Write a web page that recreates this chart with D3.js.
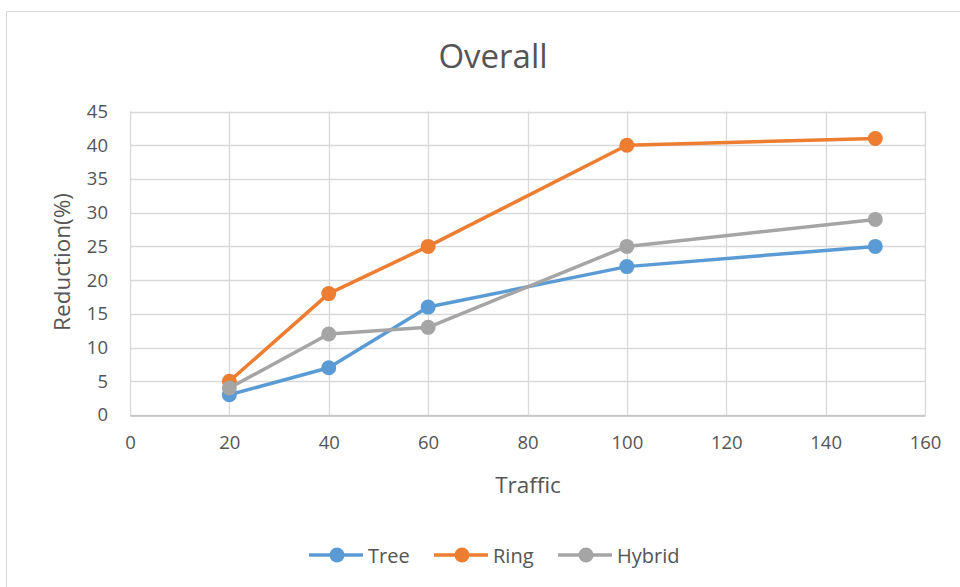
<!DOCTYPE html>
<html>
<head>
<meta charset="utf-8">
<script src="https://cdn.jsdelivr.net/npm/d3@7"></script>
<style>
  html, body { margin: 0; padding: 0; background: #fff; }
  svg { display: block; }
  text { font-family: "Open Sans", Lato, sans-serif; }
</style>
</head>
<body>
<svg id="chart" width="960" height="587"></svg>
<script>
// Traffic levels and reduction (%) per topology
const traffic = [20, 40, 60, 100, 150];
const tree = [3, 7, 16, 22, 25];
const ring = [5, 18, 25, 40, 41];
const hybrid = [4, 12, 13, 25, 29];
const xTicks = [0, 20, 40, 60, 80, 100, 120, 140, 160];
const yTicks = [0, 5, 10, 15, 20, 25, 30, 35, 40, 45];

const series = [
  { name: "Tree", values: tree, color: "#5B9BD5" },
  { name: "Ring", values: ring, color: "#ED7D31" },
  { name: "Hybrid", values: hybrid, color: "#A5A5A5" }
];

const textColor = "#555555";
const svg = d3.select("#chart");
const W = 960, H = 587;
const plot = { left: 130, right: 925, top: 111.5, bottom: 415 };

// chart frame
svg.append("rect")
  .attr("x", 6.5).attr("y", 11.5)
  .attr("width", W).attr("height", H)
  .attr("fill", "#fff").attr("stroke", "#d9d9d9").attr("stroke-width", 1);

const x = d3.scaleLinear().domain([0, 160]).range([plot.left, plot.right]);
const y = d3.scaleLinear().domain([0, 45]).range([plot.bottom, plot.top]);

// gridlines
const grid = svg.append("g");
grid.selectAll("line.h").data(yTicks).join("line")
  .attr("x1", plot.left).attr("x2", plot.right)
  .attr("y1", d => Math.round(y(d)) + 0.5).attr("y2", d => Math.round(y(d)) + 0.5)
  .attr("stroke", "#d9d9d9").attr("stroke-width", 1.3);
grid.selectAll("line.v").data(xTicks).join("line")
  .attr("y1", plot.top).attr("y2", plot.bottom)
  .attr("x1", d => Math.round(x(d)) + 0.5).attr("x2", d => Math.round(x(d)) + 0.5)
  .attr("stroke", "#d9d9d9").attr("stroke-width", 1.3);

// axes
const xAxis = svg.append("g")
  .attr("transform", `translate(0,${Math.round(plot.bottom) + 0.5})`)
  .call(d3.axisBottom(x).tickValues(xTicks).tickSize(0).tickPadding(20));
xAxis.select(".domain").attr("stroke", "#bfbfbf").attr("stroke-width", 1.3);
xAxis.selectAll("text").attr("fill", textColor).style("font-size", "18.5px")
  .style("font-family", "'Open Sans', sans-serif");

const yAxis = svg.append("g")
  .attr("transform", `translate(${plot.left},0)`)
  .call(d3.axisLeft(y).tickValues(yTicks).tickSize(0).tickPadding(22));
yAxis.select(".domain").remove();
yAxis.selectAll("text").attr("fill", textColor).style("font-size", "18.5px")
  .style("font-family", "'Open Sans', sans-serif");

// title and axis titles
svg.append("text")
  .attr("x", 493).attr("y", 68)
  .attr("text-anchor", "middle")
  .attr("fill", textColor)
  .style("font-size", "33px")
  .text("Overall");

svg.append("text")
  .attr("x", 528).attr("y", 493)
  .attr("text-anchor", "middle")
  .attr("fill", textColor)
  .style("font-size", "22.5px")
  .text("Traffic");

svg.append("text")
  .attr("transform", `translate(70,262) rotate(-90)`)
  .attr("text-anchor", "middle")
  .attr("fill", textColor)
  .style("font-size", "22.5px")
  .text("Reduction(%)");

// series lines and markers
const line = d3.line().x((d, i) => x(traffic[i])).y(d => y(d));
series.forEach(s => {
  const g = svg.append("g");
  g.append("path")
    .attr("d", line(s.values))
    .attr("fill", "none")
    .attr("stroke", s.color)
    .attr("stroke-width", 3.5)
    .attr("stroke-linejoin", "round");
  g.selectAll("circle").data(s.values).join("circle")
    .attr("cx", (d, i) => x(traffic[i]))
    .attr("cy", d => y(d))
    .attr("r", 7.5)
    .attr("fill", s.color);
});

// legend
const legendY = 555;
const legendX = [309, 434, 558];
series.forEach((s, i) => {
  const g = svg.append("g").attr("transform", `translate(${legendX[i]},${legendY})`);
  g.append("line").attr("x1", 0).attr("x2", 54).attr("y1", 0).attr("y2", 0)
    .attr("stroke", s.color).attr("stroke-width", 3.5);
  g.append("circle").attr("cx", 28).attr("cy", 0).attr("r", 7.5).attr("fill", s.color);
  g.append("text").attr("x", 59).attr("y", 7.5)
    .attr("fill", textColor).style("font-size", "20px")
    .text(s.name);
});
</script>
</body>
</html>
